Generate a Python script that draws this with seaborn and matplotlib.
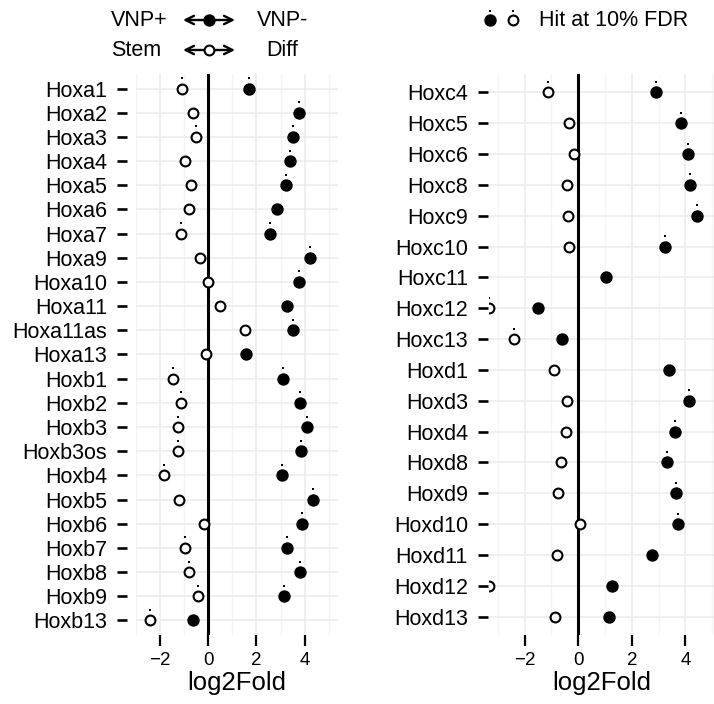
import numpy as np
import pandas as pd
import seaborn as sns
import matplotlib
matplotlib.use('Agg')
import matplotlib.pyplot as plt
from matplotlib import transforms

# Datos: log2 fold change por gen (stem/diff en blanco, VNP+/VNP- en negro)
genes_izq = ['Hoxa1', 'Hoxa2', 'Hoxa3', 'Hoxa4', 'Hoxa5', 'Hoxa6', 'Hoxa7', 'Hoxa9',
             'Hoxa10', 'Hoxa11', 'Hoxa11as', 'Hoxa13', 'Hoxb1', 'Hoxb2', 'Hoxb3',
             'Hoxb3os', 'Hoxb4', 'Hoxb5', 'Hoxb6', 'Hoxb7', 'Hoxb8', 'Hoxb9', 'Hoxb13']
stem_izq = [-1.09, -0.65, -0.50, -0.95, -0.73, -0.80, -1.14, -0.33, 0.01, 0.50, 1.52, -0.11,
            -1.45, -1.14, -1.25, -1.27, -1.85, -1.23, -0.17, -0.98, -0.79, -0.44, -2.41]
vnp_izq = [1.71, 3.75, 3.53, 3.39, 3.21, 2.86, 2.58, 4.23, 3.75, 3.28, 3.51, 1.58,
           3.10, 3.79, 4.08, 3.84, 3.06, 4.34, 3.91, 3.25, 3.79, 3.15, -0.62]
hit_stem_izq = [1, 0, 1, 0, 0, 0, 1, 0, 0, 0, 0, 0, 1, 1, 1, 1, 1, 0, 0, 1, 1, 1, 1]
hit_vnp_izq = [1, 1, 1, 1, 1, 0, 1, 1, 1, 0, 1, 0, 1, 1, 1, 1, 1, 1, 1, 1, 1, 1, 0]

genes_der = ['Hoxc4', 'Hoxc5', 'Hoxc6', 'Hoxc8', 'Hoxc9', 'Hoxc10', 'Hoxc11', 'Hoxc12',
             'Hoxc13', 'Hoxd1', 'Hoxd3', 'Hoxd4', 'Hoxd8', 'Hoxd9', 'Hoxd10', 'Hoxd11',
             'Hoxd12', 'Hoxd13']
stem_der = [-1.12, -0.34, -0.15, -0.41, -0.39, -0.34, np.nan, -3.35, -2.39, -0.92,
            -0.41, -0.45, -0.66, -0.76, 0.06, -0.81, -3.35, -0.85]
vnp_der = [2.92, 3.83, 4.11, 4.17, 4.45, 3.25, 1.03, -1.52, -0.61, 3.40,
           4.14, 3.60, 3.32, 3.64, 3.73, 2.77, 1.27, 1.14]
hit_stem_der = [1, 0, 0, 0, 0, 0, 0, 1, 1, 0, 0, 0, 0, 0, 0, 0, 0, 0]
hit_vnp_der = [1, 1, 1, 1, 1, 1, 0, 0, 0, 0, 1, 1, 1, 1, 1, 0, 0, 0]

sns.set_style('white')
plt.rcParams['font.family'] = ['Liberation Sans', 'DejaVu Sans']
plt.rcParams['text.color'] = 'black'
plt.rcParams['axes.labelcolor'] = 'black'
plt.rcParams['xtick.color'] = 'black'
plt.rcParams['ytick.color'] = 'black'

TXT = 15.5

fig = plt.figure(figsize=(7.14, 7.04), dpi=100)


def panel(ax, genes, stem, vnp, hit_stem, hit_vnp, xlim, gap):
    n = len(genes)
    df = pd.DataFrame({'gene': genes, 'row': np.arange(n), 'stem': stem, 'vnp': vnp,
                       'hit_stem': hit_stem, 'hit_vnp': hit_vnp})
    ax.axvline(0, color='black', lw=2.2, zorder=2)
    sns.scatterplot(data=df, x='stem', y='row', ax=ax, s=50, color='white',
                    edgecolor='black', linewidth=1.5, zorder=3)
    sns.scatterplot(data=df, x='vnp', y='row', ax=ax, s=80, color='black',
                    linewidth=0, zorder=3)
    # puntito encima = hit al 10% FDR
    arriba = transforms.offset_copy(ax.transData, fig=fig, x=0, y=10.5, units='dots')
    h = df[df['hit_stem'] == 1]
    ax.scatter(h['stem'], h['row'], marker='s', s=4.5, color='black', lw=0,
               transform=arriba, zorder=4)
    h = df[df['hit_vnp'] == 1]
    ax.scatter(h['vnp'], h['row'], marker='s', s=4.5, color='black', lw=0,
               transform=arriba, zorder=4)

    ax.set_xlim(xlim)
    ax.set_ylim(n - 1 + 0.6, -0.6)
    ax.set_yticks(range(n))
    ax.set_yticklabels(genes)
    ax.set_xticks([-2, 0, 2, 4])
    ax.set_xticks([-3, -1, 1, 3, 5], minor=True)
    ax.grid(which='major', color='#EBEBEB', lw=1.1)
    ax.grid(which='minor', axis='x', color='#F4F4F4', lw=0.9)
    ax.set_axisbelow(True)
    ax.tick_params(axis='y', length=7.3, width=1.9, pad=7, labelsize=TXT, left=True)
    ax.tick_params(axis='x', which='major', length=8, width=1.6, pad=4, labelsize=13.5,
                   bottom=True)
    ax.tick_params(axis='x', which='minor', length=0)
    for s in ax.spines.values():
        s.set_visible(False)
    ax.spines['left'].set_position(('outward', gap))
    ax.set_xlabel('log2Fold', fontsize=18.5, labelpad=2)
    ax.set_ylabel('')


ax1 = fig.add_axes([136 / 714, 69 / 704, 202.3 / 714, 561 / 704])
panel(ax1, genes_izq, stem_izq, vnp_izq, hit_stem_izq, hit_vnp_izq, (-2.99, 5.40), 6.5)

ax2 = fig.add_axes([488.5 / 714, 69 / 704, 225.5 / 714, 561 / 704])
panel(ax2, genes_der, stem_der, vnp_der, hit_stem_der, hit_vnp_der, (-3.35, 5.07), 0.5)

# Leyendas de arriba, en coordenadas de pixel
ov = fig.add_axes([0, 0, 1, 1])
ov.set_xlim(0, 714)
ov.set_ylim(704, 0)
ov.axis('off')

ov.text(111, 21, 'VNP+', ha='left', va='center', fontsize=TXT)
ov.text(111, 51, 'Stem', ha='left', va='center', fontsize=TXT)
ov.text(283, 21, 'VNP-', ha='center', va='center', fontsize=TXT)
ov.text(282, 51, 'Diff', ha='center', va='center', fontsize=TXT)
for y in [20, 50]:
    ov.annotate('', xy=(183, y), xytext=(235, y),
                arrowprops=dict(arrowstyle='<->', lw=1.7, color='black',
                                shrinkA=0, shrinkB=0, mutation_scale=15))
ov.scatter([209], [20], s=80, color='black', lw=0, zorder=5)
ov.scatter([209], [50], s=50, facecolor='white', edgecolor='black', lw=1.5, zorder=5)

ov.scatter([490], [20], s=80, color='black', lw=0)
ov.scatter([512.7], [20], s=50, facecolor='white', edgecolor='black', lw=1.5)
ov.scatter([490, 512.7], [10.5, 10.5], marker='s', s=4.5, color='black', lw=0)
ov.text(539, 21, 'Hit at 10% FDR', ha='left', va='center', fontsize=TXT)

fig.savefig('out.png', dpi=100)
